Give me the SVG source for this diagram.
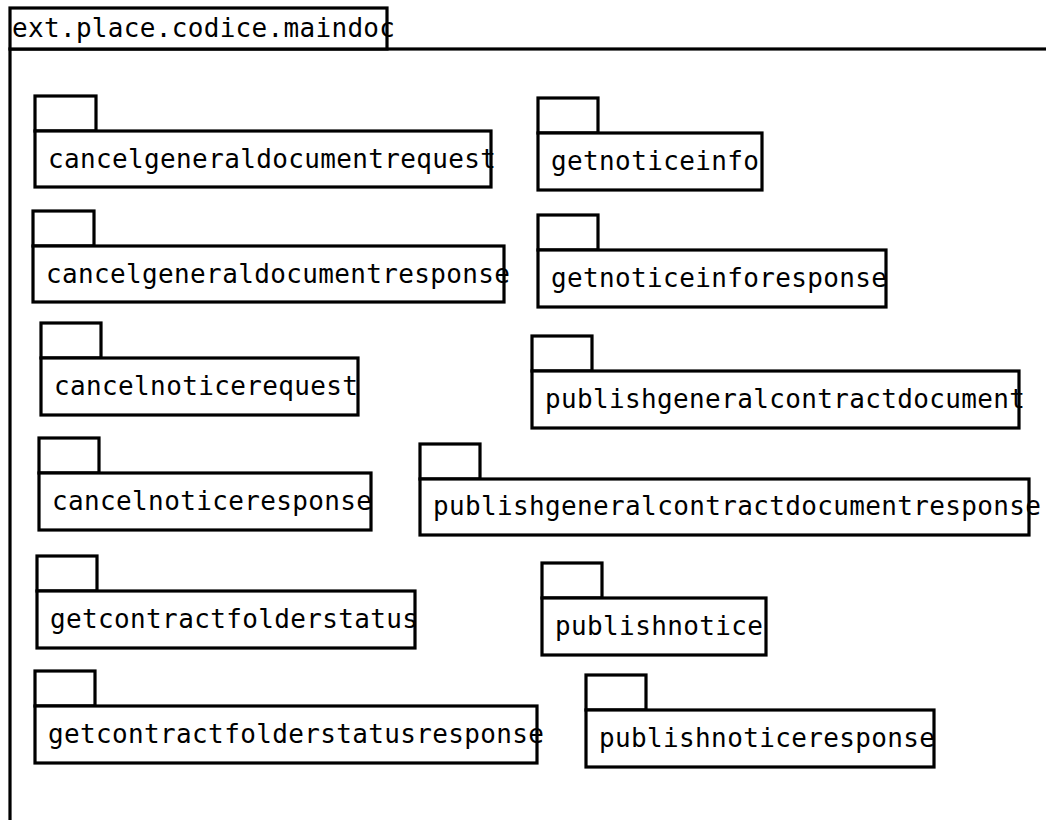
<svg xmlns="http://www.w3.org/2000/svg" width="1046" height="820" viewBox="0 0 1046 820">
<style>
.b{fill:#fff;stroke:#000;stroke-width:3.2}
.t{font-family:"DejaVu Sans Mono","Liberation Mono",monospace;font-size:26px;fill:#000}
.ft{font-family:"DejaVu Sans Mono","Liberation Mono",monospace;font-size:26px;fill:#000}
</style>
<rect width="1046" height="820" fill="#fff"/>
<g id="frame">
<rect class="b" x="10" y="49" width="1100" height="900"/>
<rect class="b" x="10" y="8" width="377" height="41"/>
<text class="ft" x="12" y="37" textLength="383" lengthAdjust="spacing">ext.place.codice.maindoc</text>
</g>
<g id="connectors"></g>
<g id="p1"><rect class="b" x="35" y="96" width="61" height="35"/><rect class="b" x="35" y="131" width="456" height="56"/><text class="t" x="48" y="168" textLength="448" lengthAdjust="spacing">cancelgeneraldocumentrequest</text></g>
<g id="p2"><rect class="b" x="33" y="211" width="61" height="35"/><rect class="b" x="33" y="246" width="471" height="56"/><text class="t" x="46" y="283" textLength="464" lengthAdjust="spacing">cancelgeneraldocumentresponse</text></g>
<g id="p3"><rect class="b" x="41" y="323" width="60" height="35"/><rect class="b" x="41" y="358" width="317" height="57"/><text class="t" x="54" y="395" textLength="304" lengthAdjust="spacing">cancelnoticerequest</text></g>
<g id="p4"><rect class="b" x="39" y="438" width="60" height="35"/><rect class="b" x="39" y="473" width="332" height="57"/><text class="t" x="52" y="510" textLength="320" lengthAdjust="spacing">cancelnoticeresponse</text></g>
<g id="p5"><rect class="b" x="37" y="556" width="60" height="35"/><rect class="b" x="37" y="591" width="378" height="57"/><text class="t" x="50" y="628" textLength="368" lengthAdjust="spacing">getcontractfolderstatus</text></g>
<g id="p6"><rect class="b" x="35" y="671" width="60" height="35"/><rect class="b" x="35" y="706" width="502" height="57"/><text class="t" x="48" y="743" textLength="496" lengthAdjust="spacing">getcontractfolderstatusresponse</text></g>
<g id="p7"><rect class="b" x="538" y="98" width="60" height="35"/><rect class="b" x="538" y="133" width="224" height="57"/><text class="t" x="551" y="170" textLength="208" lengthAdjust="spacing">getnoticeinfo</text></g>
<g id="p8"><rect class="b" x="538" y="215" width="60" height="35"/><rect class="b" x="538" y="250" width="348" height="57"/><text class="t" x="551" y="287" textLength="336" lengthAdjust="spacing">getnoticeinforesponse</text></g>
<g id="p9"><rect class="b" x="532" y="336" width="60" height="35"/><rect class="b" x="532" y="371" width="487" height="57"/><text class="t" x="545" y="408" textLength="480" lengthAdjust="spacing">publishgeneralcontractdocument</text></g>
<g id="p10"><rect class="b" x="420" y="444" width="60" height="35"/><rect class="b" x="420" y="479" width="609" height="56"/><text class="t" x="433" y="515" textLength="608" lengthAdjust="spacing">publishgeneralcontractdocumentresponse</text></g>
<g id="p11"><rect class="b" x="542" y="563" width="60" height="35"/><rect class="b" x="542" y="598" width="224" height="57"/><text class="t" x="555" y="635" textLength="208" lengthAdjust="spacing">publishnotice</text></g>
<g id="p12"><rect class="b" x="586" y="675" width="60" height="35"/><rect class="b" x="586" y="710" width="348" height="57"/><text class="t" x="599" y="747" textLength="336" lengthAdjust="spacing">publishnoticeresponse</text></g>
</svg>
